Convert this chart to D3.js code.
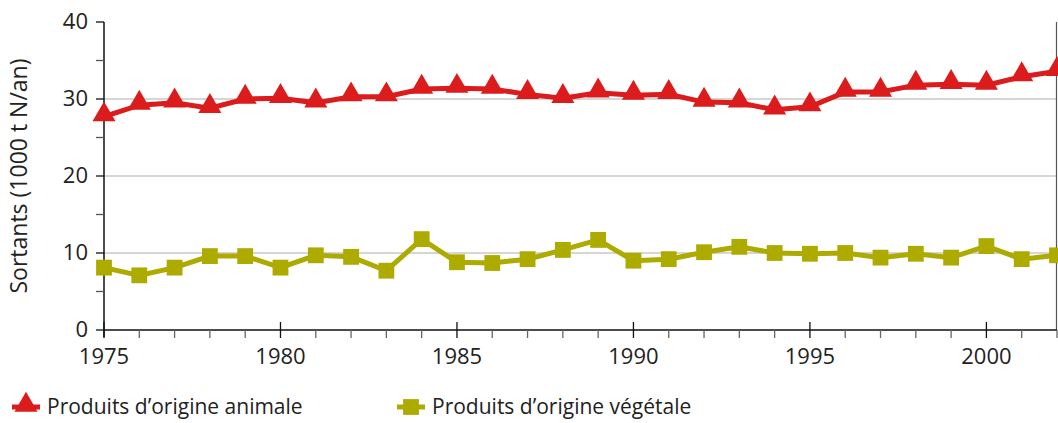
<!DOCTYPE html>
<html>
<head>
<meta charset="utf-8">
<script src="https://cdn.jsdelivr.net/npm/d3@7"></script>
<style>
  body { margin: 0; background: #fff; }
  text { font-family: "Open Sans", sans-serif; fill: #222; }
</style>
</head>
<body>
<div id="chart"></div>
<script>
// data
const years = d3.range(1975, 2003);
const animale = [27.7, 29.2, 29.5, 28.8, 30.0, 30.1, 29.5, 30.3, 30.3, 31.3,
                 31.4, 31.3, 30.6, 30.1, 30.8, 30.5, 30.6, 29.6, 29.5, 28.6,
                 29.0, 30.9, 30.9, 31.8, 31.9, 31.8, 32.9, 33.6];
const vegetale = [8.1, 7.1, 8.1, 9.6, 9.6, 8.1, 9.7, 9.5, 7.7, 11.8,
                  8.8, 8.7, 9.2, 10.4, 11.7, 9.0, 9.2, 10.1, 10.8, 10.0,
                  9.9, 10.0, 9.4, 9.9, 9.4, 10.9, 9.2, 9.7];
const yTicks = [0, 10, 20, 30, 40];
const xLabels = [1975, 1980, 1985, 1990, 1995, 2000];
const seriesNames = ["Produits d\u2019origine animale", "Produits d\u2019origine végétale"];

const red = "#dc1c1c";
const olive = "#adab00";

const width = 1058, height = 423;
const margin = {top: 22, right: 1, left: 104, bottom: 93};

const svg = d3.select("#chart").append("svg")
    .attr("width", width)
    .attr("height", height);

const x = d3.scaleLinear()
    .domain([1975, 2002])
    .range([margin.left, width - margin.right]);

const y = d3.scaleLinear()
    .domain([0, 40])
    .range([height - margin.bottom, margin.top]);

// gridlines
svg.append("g")
    .selectAll("line")
    .data(yTicks.filter(d => d > 0 && d < 40))
    .join("line")
    .attr("x1", x(1975))
    .attr("x2", x(2002))
    .attr("y1", d => y(d))
    .attr("y2", d => y(d))
    .attr("stroke", "#c8c8c8")
    .attr("stroke-width", 1.5);

// right frame line
svg.append("line")
    .attr("x1", x(2002) - 0.5).attr("x2", x(2002) - 0.5)
    .attr("y1", y(40)).attr("y2", y(0))
    .attr("stroke", "#555").attr("stroke-width", 1.2);

// y axis
const yAxis = svg.append("g")
    .attr("transform", `translate(${x(1975)},0)`);
yAxis.append("line")
    .attr("y1", y(40)).attr("y2", y(0) + 7)
    .attr("stroke", "#111").attr("stroke-width", 1.5);
yAxis.selectAll(".tk")
    .data(d3.range(0, 41, 5))
    .join("line")
    .attr("x1", -8).attr("x2", 0)
    .attr("y1", d => y(d)).attr("y2", d => y(d))
    .attr("stroke", d => d % 10 === 0 ? "#111" : "#555")
    .attr("stroke-width", 1.3);
yAxis.selectAll("text")
    .data(yTicks)
    .join("text")
    .attr("x", -16)
    .attr("y", d => y(d))
    .attr("dy", "0.34em")
    .attr("text-anchor", "end")
    .attr("font-size", 22)
    .text(d => d);

svg.append("text")
    .attr("transform", `translate(27,${(y(0) + y(40)) / 2}) rotate(-90)`)
    .attr("text-anchor", "middle")
    .attr("font-size", 23)
    .text("Sortants (1000 t N/an)");

// x axis
const xAxis = svg.append("g")
    .attr("transform", `translate(0,${y(0)})`);
xAxis.append("line")
    .attr("x1", x(1975)).attr("x2", x(2002))
    .attr("stroke", "#111").attr("stroke-width", 1.5);
xAxis.selectAll(".tk")
    .data(years)
    .join("line")
    .attr("x1", d => x(d)).attr("x2", d => x(d))
    .attr("y1", d => d % 5 === 0 ? -8 : 0)
    .attr("y2", 8)
    .attr("stroke", d => d % 5 === 0 ? "#111" : "#666")
    .attr("stroke-width", 1.3);
xAxis.selectAll("text")
    .data(xLabels)
    .join("text")
    .attr("x", d => x(d))
    .attr("y", 34)
    .attr("text-anchor", "middle")
    .attr("font-size", 22)
    .text(d => d);

const line = d3.line()
    .x((d, i) => x(years[i]))
    .y(d => y(d));

const tri = d3.symbol().type(d3.symbolTriangle).size(230);
const sq = d3.symbol().type(d3.symbolSquare).size(250);

// green series
svg.append("path")
    .datum(vegetale)
    .attr("d", line)
    .attr("fill", "none")
    .attr("stroke", olive)
    .attr("stroke-width", 5);
svg.append("g")
    .selectAll("path")
    .data(vegetale)
    .join("path")
    .attr("transform", (d, i) => `translate(${x(years[i])},${y(d)})`)
    .attr("d", sq)
    .attr("fill", olive);

// red series
svg.append("path")
    .datum(animale)
    .attr("d", line)
    .attr("fill", "none")
    .attr("stroke", red)
    .attr("stroke-width", 5);
svg.append("g")
    .selectAll("path")
    .data(animale)
    .join("path")
    .attr("transform", (d, i) => `translate(${x(years[i])},${y(d) - 2})`)
    .attr("d", tri)
    .attr("fill", red);

// legend
const legend = svg.append("g").attr("transform", "translate(0,407)");
const items = [
    {name: seriesNames[0], color: red, sym: tri, x0: 12},
    {name: seriesNames[1], color: olive, sym: sq, x0: 397}
];
const li = legend.selectAll("g")
    .data(items)
    .join("g")
    .attr("transform", d => `translate(${d.x0},0)`);
li.append("line")
    .attr("x1", 0).attr("x2", 28)
    .attr("stroke", d => d.color)
    .attr("stroke-width", 5);
li.append("path")
    .attr("transform", d => `translate(14,${d.sym === tri ? -2 : 0})`)
    .attr("d", d => d.sym())
    .attr("fill", d => d.color);
li.append("text")
    .attr("x", 35)
    .attr("dy", "0.35em")
    .attr("font-size", 21)
    .text(d => d.name);
</script>
</body>
</html>
